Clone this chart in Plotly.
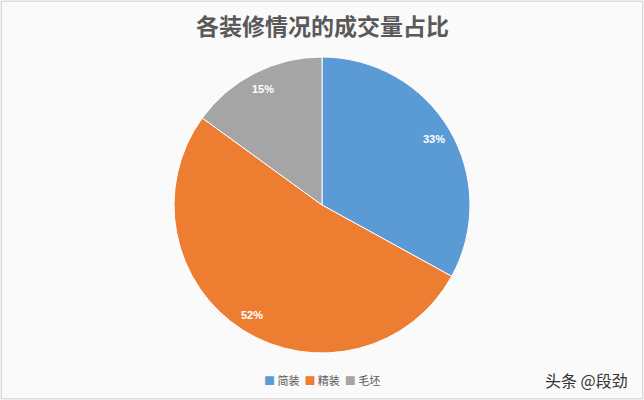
import math
import plotly.graph_objects as go

title_text = "各装修情况的成交量占比"
categories = ["简装", "精装", "毛坯"]
shares = [33, 52, 15]
colors = ["#5B9BD5", "#ED7D31", "#A5A5A5"]
watermark = "头条 @段劲"

W, H = 644, 400
pie_top, pie_bottom = 57, 353
radius = (pie_bottom - pie_top) / 2
cy_px = (pie_top + pie_bottom) / 2

fig = go.Figure()

fig.add_trace(go.Pie(
    labels=categories, values=shares, sort=False, direction="clockwise", rotation=0,
    marker=dict(colors=colors, line=dict(color="white", width=1)),
    textinfo="none", hoverinfo="label+percent", showlegend=False,
    domain=dict(x=[0, 1], y=[1 - pie_bottom / H, 1 - pie_top / H]),
))

annotations = []
total = sum(shares)
cum = 0
for v in shares:
    mid = (cum + v / 2) / total * 2 * math.pi
    cum += v
    d = radius * 0.88
    annotations.append(dict(
        x=0.5 + d * math.sin(mid) / W, y=(H - cy_px + d * math.cos(mid)) / H,
        xref="paper", yref="paper", showarrow=False, xanchor="center", yanchor="middle",
        text=f"<b>{round(v / total * 100)}%</b>",
        font=dict(family="Liberation Sans, Arial", size=11, color="white"),
    ))

legend_text = "&nbsp;&nbsp;".join(
    f"<span style='color:{c}'>■</span> {lab}" for lab, c in zip(categories, colors)
)
annotations.append(dict(
    x=0.5, y=1 - 380 / H, xref="paper", yref="paper", showarrow=False,
    xanchor="center", yanchor="middle",
    text=legend_text, font=dict(family="Noto Sans CJK SC", size=11, color="#595959"),
))
annotations.append(dict(
    x=0.5, y=1 - 25 / H, xref="paper", yref="paper", showarrow=False,
    xanchor="center", yanchor="middle",
    text=f"<b>{title_text}</b>", font=dict(family="Noto Sans CJK SC", size=23, color="#595959"),
))
annotations.append(dict(
    x=630 / W, y=1 - 380 / H, xref="paper", yref="paper", showarrow=False,
    xanchor="right", yanchor="middle", text=watermark,
    font=dict(family="Noto Sans CJK SC", size=16, color="#333333"),
))

fig.update_layout(
    width=W, height=H, margin=dict(l=0, r=0, t=0, b=0),
    paper_bgcolor="#fafafa", plot_bgcolor="#fafafa",
    annotations=annotations,
    shapes=[dict(type="rect", xref="paper", yref="paper", x0=0.002, y0=0.003, x1=0.998, y1=0.997,
                 line=dict(color="#d0d0d0", width=1))],
)

fig.write_html("out.html", config={"displayModeBar": False},
               post_script="document.body.style.margin='0';")
